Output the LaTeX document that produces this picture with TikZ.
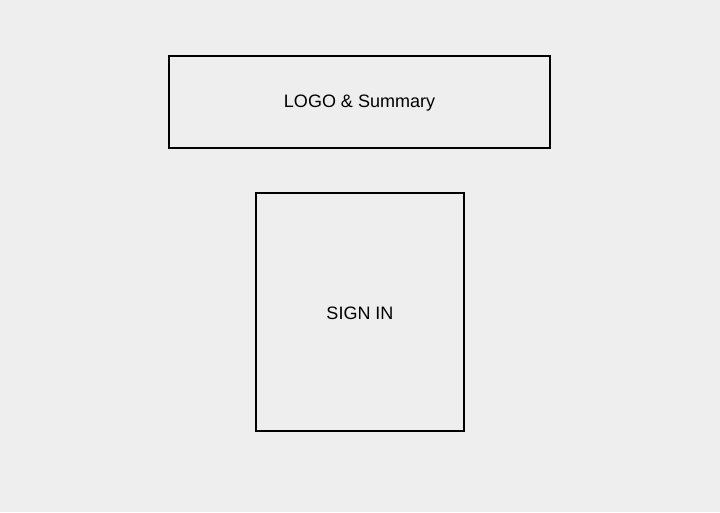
\documentclass[tikz,border=0pt]{standalone}
\usepackage{fontspec}
\setmainfont{Liberation Sans}
\definecolor{paper}{HTML}{EEEEEE}
\begin{document}
\begin{tikzpicture}
    [
    x=1pt, y=-1pt,
    frame/.style = {draw=black, line width=1.5pt, fill=paper, inner sep=0pt, font=\fontsize{18}{21}\selectfont}
    ]
\fill[paper] (0,0) rectangle (720,512);
\useasboundingbox (0,0) rectangle (720,512);
\node[frame, minimum width=381pt, minimum height=92pt] (logo) at (359.5,102) {};
\node (logotext) at (359.5,103) {\fontsize{18}{21}\selectfont LOGO \& Summary};
\node[frame, minimum width=208pt, minimum height=238pt] (signin) at (360,312) {};
\node (signintext) at (360,313) {\fontsize{18}{21}\selectfont SIGN IN};
\end{tikzpicture}
\end{document}
